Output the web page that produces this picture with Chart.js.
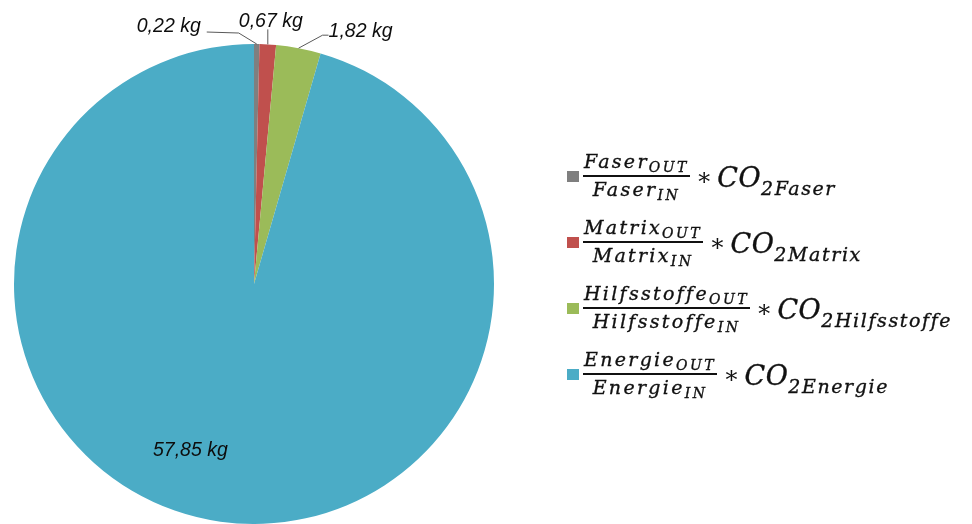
<!DOCTYPE html>
<html>
<head>
<meta charset="utf-8">
<script src="https://cdn.jsdelivr.net/npm/chart.js@4"></script>
<style>
  html, body { margin: 0; padding: 0; background: #ffffff; }
  #wrap { position: relative; width: 972px; height: 524px; overflow: hidden; }
  #chart { position: absolute; left: 0; top: 0; }
  #legend { position: absolute; left: 567px; top: 0; font-family: "DejaVu Serif", serif; font-style: italic; color: #111; -webkit-text-stroke: 0.35px #111; }
  .item { position: absolute; left: 0; display: flex; align-items: center; white-space: nowrap; }
  .sw { width: 12px; height: 11px; margin-right: 4px; }
  .frac { display: inline-flex; flex-direction: column; align-items: center; }
  .num, .den { font-size: 19px; letter-spacing: 2.3px; line-height: 22px; }
  .num { border-bottom: 2px solid #111; padding: 0 1px 1px 1px; }
  .den { padding-top: 1px; }
  .fsub { font-size: 14px; letter-spacing: 2.5px; position: relative; top: 4px; }
  .op { font-size: 24px; font-style: normal; margin: 0 5px 0 6px; position: relative; top: 1px; -webkit-text-stroke: 0; }
  .co { font-size: 27px; letter-spacing: 0.5px; position: relative; top: 1px; }
  .csub { font-size: 19px; letter-spacing: 1.6px; position: relative; top: 8px; }
</style>
</head>
<body>
<div id="wrap">
  <canvas id="chart" width="972" height="524"></canvas>
  <div id="legend"></div>
</div>
<script>
// CO2 contributions per input (kg)
const categories = ["Faser", "Matrix", "Hilfsstoffe", "Energie"];
const values = [0.22, 0.67, 1.82, 57.85];
const colors = ["#7f7f7f", "#c0504d", "#9bbb59", "#4bacc6"];
const unit = "kg";

const fmt = v => v.toFixed(2).replace(".", ",") + " " + unit;

// Value labels, with leader lines for the thin slices at the top
const sliceLabels = {
  id: "sliceLabels",
  afterDatasetsDraw(chart, args, opts) {
    const ctx = chart.ctx;
    const meta = chart.getDatasetMeta(0);
    ctx.save();
    ctx.font = opts.font;
    ctx.fillStyle = opts.color;
    ctx.strokeStyle = opts.lineColor;
    ctx.lineWidth = 1;
    meta.data.forEach((arc, i) => {
      const p = arc.getProps(["x", "y", "startAngle", "endAngle", "outerRadius"], true);
      const cfg = opts.items[i];
      const text = fmt(values[i]);
      if (cfg.inside) {
        ctx.textAlign = "center";
        ctx.textBaseline = "middle";
        ctx.fillText(text, p.x + cfg.inside[0] * p.outerRadius, p.y + cfg.inside[1] * p.outerRadius);
        return;
      }
      const mid = (p.startAngle + p.endAngle) / 2;
      const ex = p.x + Math.cos(mid) * p.outerRadius;
      const ey = p.y + Math.sin(mid) * p.outerRadius;
      ctx.beginPath();
      ctx.moveTo(ex, ey);
      cfg.path.forEach(([dx, dy]) => ctx.lineTo(ex + dx, ey + dy));
      ctx.stroke();
      ctx.textAlign = cfg.align;
      ctx.textBaseline = "middle";
      ctx.fillText(text, ex + cfg.text[0], ey + cfg.text[1]);
    });
    ctx.restore();
  }
};

new Chart(document.getElementById("chart"), {
  type: "pie",
  data: {
    labels: categories,
    datasets: [{
      data: values,
      backgroundColor: colors,
      borderWidth: 0
    }]
  },
  plugins: [sliceLabels],
  options: {
    responsive: false,
    animation: false,
    layout: { padding: { left: 14, right: 478, top: 44, bottom: 0 } },
    plugins: {
      legend: { display: false },
      tooltip: { enabled: false },
      sliceLabels: {
        font: "italic 19.5px 'Liberation Sans', Arial, sans-serif",
        color: "#0d0d0d",
        lineColor: "#595959",
        items: [
          { path: [[-18, -11], [-50, -12]], text: [-56, -17], align: "right" },
          { path: [[0, -15]], text: [3, -23], align: "center" },
          { path: [[24, -13], [30, -13]], text: [30, -17], align: "left" },
          { inside: [-0.265, 0.695] }
        ]
      }
    }
  }
});

// Legend: each entry shows the weighted term  X_OUT / X_IN * CO2_X
const legend = document.getElementById("legend");
const legendTop = [150, 216, 282, 348];
categories.forEach((c, i) => {
  const item = document.createElement("div");
  item.className = "item";
  item.style.top = legendTop[i] + "px";
  item.innerHTML =
    '<span class="sw" style="background:' + colors[i] + '"></span>' +
    '<span class="frac">' +
      '<span class="num">' + c + '<span class="fsub">OUT</span></span>' +
      '<span class="den">' + c + '<span class="fsub">IN</span></span>' +
    '</span>' +
    '<span class="op">∗</span>' +
    '<span class="co">CO<span class="csub">2' + c + '</span></span>';
  legend.appendChild(item);
});
</script>
</body>
</html>
